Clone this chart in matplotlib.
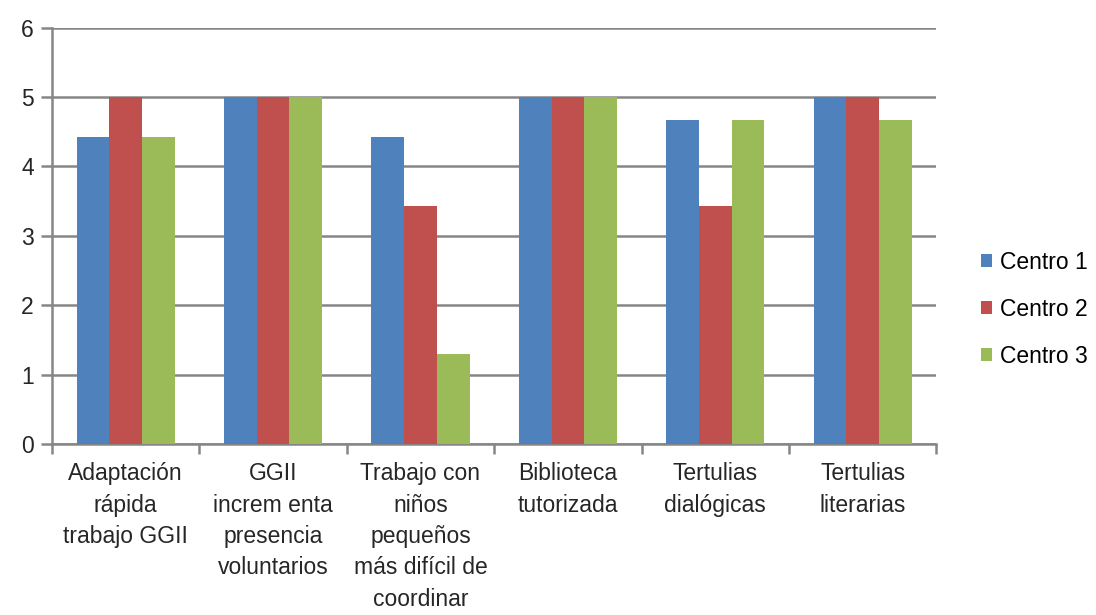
import numpy as np
import matplotlib
matplotlib.use('Agg')
import matplotlib.pyplot as plt
from matplotlib import font_manager

# Chart data
categories = ['Adaptación\nrápida\ntrabajo GGII',
              'GGII\nincrem enta\npresencia\nvoluntarios',
              'Trabajo con\nniños\npequeños\nmás difícil de\ncoordinar',
              'Biblioteca\ntutorizada',
              'Tertulias\ndialógicas',
              'Tertulias\nliterarias']
series_names = ['Centro 1', 'Centro 2', 'Centro 3']
centro1 = [4.43, 5, 4.43, 5, 4.67, 5]
centro2 = [5, 5, 3.43, 5, 3.43, 5]
centro3 = [4.43, 5, 1.3, 5, 4.67, 4.67]
colors = ['#4F81BD', '#C0504D', '#9BBB59']

names = {f.name for f in font_manager.fontManager.ttflist}
font = 'Liberation Sans Narrow' if 'Liberation Sans Narrow' in names else 'Liberation Sans'
plt.rcParams['font.family'] = [font, 'DejaVu Sans']

fig = plt.figure(figsize=(10.96, 6.15), dpi=100)
ax = fig.add_axes([0.0474, 0.278, 0.807, 0.677])

x = np.arange(len(categories))
w = 0.222
for i, (vals, name) in enumerate(zip([centro1, centro2, centro3], series_names)):
    ax.bar(x + (i - 1) * w, vals, width=w, color=colors[i], label=name, zorder=3)

grid_col = '#868686'
txt_col = '#262626'
ax.set_xlim(-0.5, len(categories) - 0.5)
ax.set_ylim(0, 6)
ax.set_yticks(range(7))
ax.yaxis.grid(True, color=grid_col, linewidth=1.8, zorder=0)
ax.set_axisbelow(True)
for s in ['top', 'right']:
    ax.spines[s].set_visible(False)
for s in ['left', 'bottom']:
    ax.spines[s].set_color(grid_col)
    ax.spines[s].set_linewidth(1.8)

ax.set_xticks(np.arange(-0.5, len(categories), 1.0))
ax.set_xticklabels([])
ax.set_xticks(x, minor=True)
ax.set_xticklabels(categories, minor=True, fontsize=16.5, linespacing=1.47, color=txt_col)
ax.tick_params(axis='x', which='minor', length=0, pad=13)
ax.tick_params(axis='x', which='major', length=7, width=1.8, color=grid_col)
ax.tick_params(axis='y', length=8, width=1.8, color=grid_col, labelsize=16.5, labelcolor=txt_col, pad=5)

fig.legend(loc='center left', bbox_to_anchor=(0.895, 0.497), frameon=False, fontsize=16.5,
           borderpad=0, borderaxespad=0,
           handlelength=0.5, handleheight=0.5, handletextpad=0.35, labelspacing=1.05)

fig.savefig('out.png', dpi=100)
